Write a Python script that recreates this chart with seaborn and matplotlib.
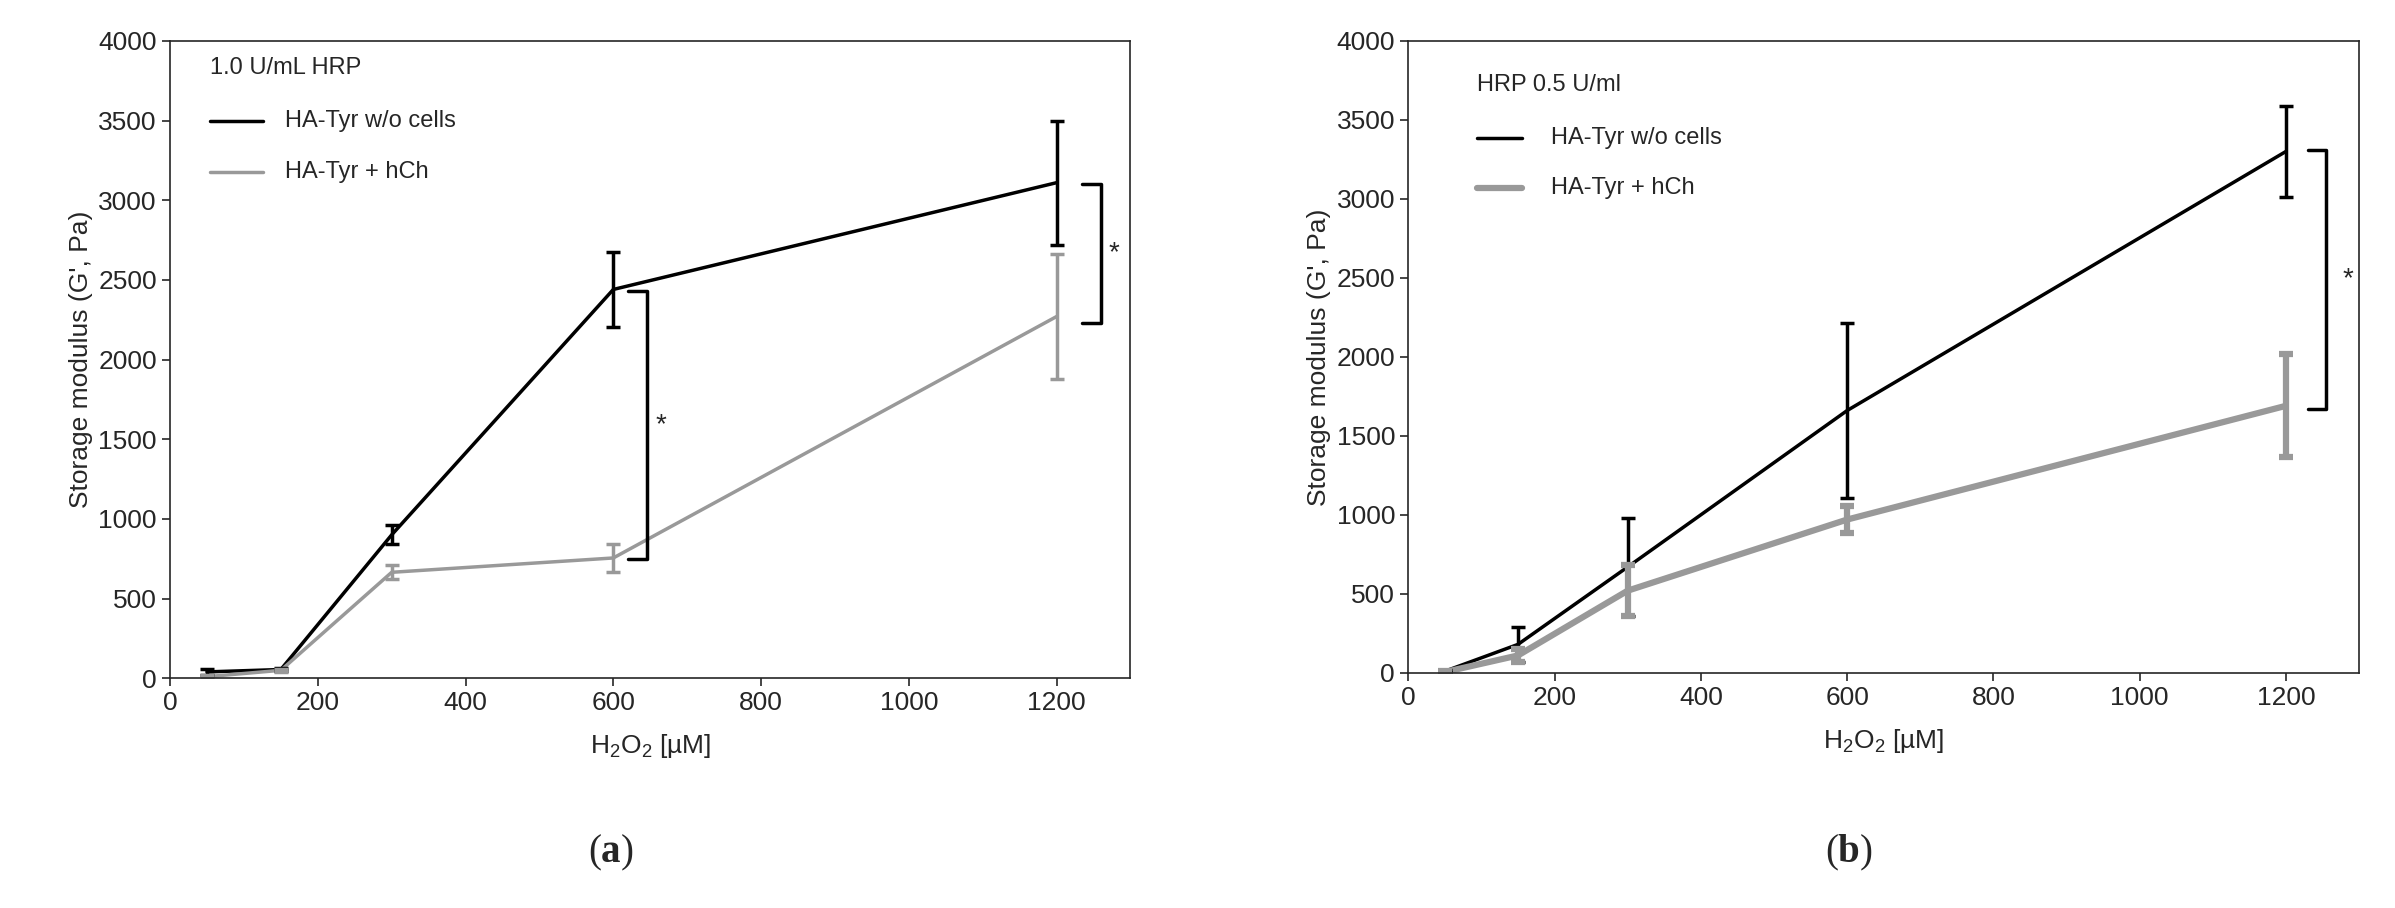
import numpy as np
import pandas as pd
import matplotlib
matplotlib.use("Agg")
import matplotlib.pyplot as plt
import seaborn as sns

sns.set_style("ticks")
plt.rcParams["font.family"] = ["Liberation Sans", "DejaVu Sans"]
plt.rcParams["mathtext.fontset"] = "custom"
plt.rcParams["mathtext.rm"] = "Liberation Sans"
plt.rcParams["mathtext.bf"] = "Liberation Serif:bold"

# -----------------------------
# Data
# -----------------------------
h2o2 = [50, 150, 300, 600, 1200]

a_nocells = [40, 55, 900, 2440, 3110]
a_nocells_err = [20, 10, 60, 235, 390]
a_hch = [10, 50, 665, 755, 2270]
a_hch_err = [10, 10, 45, 90, 395]

b_nocells = [10, 180, 670, 1660, 3300]
b_nocells_err = [5, 110, 310, 555, 290]
b_hch = [5, 110, 520, 970, 1690]
b_hch_err = [5, 40, 160, 85, 325]

fig = plt.figure(figsize=(23.95, 9.08), dpi=100)
ax_a = fig.add_axes([0.071, 0.253, 0.401, 0.702])
ax_b = fig.add_axes([0.588, 0.259, 0.397, 0.696])


def panel(ax, black, black_err, grey, grey_err, title, lw_grey, brackets, leg):
    df = pd.DataFrame({"x": h2o2 * 2,
                       "y": black + grey,
                       "group": ["HA-Tyr w/o cells"] * 5 + ["HA-Tyr + hCh"] * 5})
    sns.lineplot(data=df, x="x", y="y", hue="group",
                 palette={"HA-Tyr w/o cells": "black", "HA-Tyr + hCh": "#999999"},
                 ax=ax, legend=False, linewidth=2.5)
    ax.lines[1].set_linewidth(lw_grey)
    ax.errorbar(h2o2, black, yerr=black_err, fmt="none", ecolor="black",
                elinewidth=2.5, capsize=5, capthick=2.5)
    ax.errorbar(h2o2, grey, yerr=grey_err, fmt="none", ecolor="#999999",
                elinewidth=lw_grey, capsize=5, capthick=lw_grey)
    for bx, top, bot, sx in brackets:
        ax.plot([bx - 25, bx, bx, bx - 25], [top, top, bot, bot], color="black", lw=2.5)
        ax.text(bx + sx, (top + bot) / 2, "*", fontsize=20, ha="left", va="center")
    ax.set_xlim(0, 1300)
    ax.set_ylim(0, 4000)
    ax.set_xticks(range(0, 1201, 200))
    ax.set_yticks(range(0, 4001, 500))
    ax.tick_params(labelsize=19, width=1.2, length=6)
    for s in ax.spines.values():
        s.set_linewidth(1.2)
    ax.set_xlabel("H$_2$O$_2$ [µM]", fontsize=19, labelpad=12)
    ax.set_ylabel("Storage modulus (G', Pa)", fontsize=19)
    x0, x1, xt, yt, y1, y2 = leg
    ax.text(x0, yt, title, transform=ax.transAxes, fontsize=17, va="center")
    ax.plot([x0, x1], [y1, y1], transform=ax.transAxes, color="black", lw=2.5)
    ax.plot([x0, x1], [y2, y2], transform=ax.transAxes, color="#999999", lw=lw_grey)
    ax.text(xt, y1, "HA-Tyr w/o cells", transform=ax.transAxes, fontsize=17, va="center")
    ax.text(xt, y2, "HA-Tyr + hCh", transform=ax.transAxes, fontsize=17, va="center")


panel(ax_a, a_nocells, a_nocells_err, a_hch, a_hch_err, "1.0 U/mL HRP", 2.5,
      [(645, 2430, 750, 12), (1260, 3100, 2230, 10)],
      (0.042, 0.097, 0.12, 0.957, 0.875, 0.795))
panel(ax_b, b_nocells, b_nocells_err, b_hch, b_hch_err, "HRP 0.5 U/ml", 4.5,
      [(1255, 3310, 1670, 22)],
      (0.072, 0.12, 0.15, 0.93, 0.847, 0.767))

fig.text(0.255, 0.05, r"($\mathbf{a}$)", fontsize=28, ha="center", family="Liberation Serif")
fig.text(0.772, 0.05, r"($\mathbf{b}$)", fontsize=28, ha="center", family="Liberation Serif")

plt.savefig("out.png", dpi=100)
